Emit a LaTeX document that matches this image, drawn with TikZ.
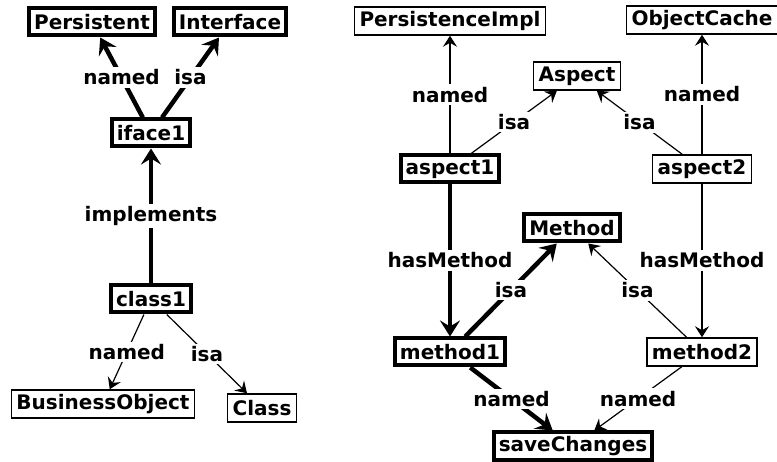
\documentclass[tikz,border=0pt]{standalone}
\usepackage{fontspec}
\setmainfont{DejaVu Sans}
\usetikzlibrary{arrows.meta}
\begin{document}
\begin{tikzpicture}[x=1pt,y=-1pt,
  every node/.style={font=\fontsize{20}{24}\selectfont\bfseries},
  thickbox/.style={draw, line width=4pt, fill=white, inner xsep=5pt, inner ysep=1pt, minimum height=27pt},
  thinbox/.style={draw, line width=1.5pt, fill=white, inner xsep=5pt, inner ysep=1pt, minimum height=28pt},
  lbl/.style={fill=white, inner sep=2.5pt},
  thickedge/.style={line width=4.5pt, -{Stealth[length=16pt,width=20pt,inset=6pt]}},
  thinedge/.style={line width=1.2pt, -{Stealth[length=11pt,width=14pt,inset=4pt]}},
]
\path[use as bounding box] (0,0) rectangle (777,462);
\node[thickbox] (persistent) at (92,22) {Persistent};
\node[thickbox] (interface) at (230,22) {Interface};
\node[thickbox] (iface1) at (151,133) {iface1};
\node[thickbox] (class1) at (151,299) {class1};
\node[thinbox] (bo) at (103,404) {BusinessObject};
\node[thinbox] (class) at (262,408) {Class};
\node[thinbox] (pimpl) at (450,21) {PersistenceImpl};
\node[thinbox] (ocache) at (702,20) {ObjectCache};
\node[thinbox] (aspect) at (577,76) {Aspect};
\node[thickbox] (aspect1) at (450,169) {aspect1};
\node[thinbox] (aspect2) at (702,169) {aspect2};
\node[thickbox] (method) at (572,228) {Method};
\node[thickbox] (method1) at (450,352) {method1};
\node[thinbox] (method2) at (702,352) {method2};
\node[thickbox] (save) at (573,446) {saveChanges};

\draw[thickedge] (iface1) -- node[lbl]{named} (persistent);
\draw[thickedge] (iface1) -- node[lbl]{isa} (interface);
\draw[thickedge] (class1) -- node[lbl]{implements} (iface1);
\draw[thinedge] (class1) -- node[lbl]{named} (bo);
\draw[thinedge] (class1) -- node[lbl]{isa} (class);
\draw[thinedge] (aspect1) -- node[lbl]{named} (pimpl);
\draw[thinedge] (aspect1) -- node[lbl]{isa} (aspect);
\draw[thinedge] (aspect2) -- node[lbl]{isa} (aspect);
\draw[thinedge] (aspect2) -- node[lbl]{named} (ocache);
\draw[thickedge] (aspect1) -- node[lbl]{hasMethod} (method1);
\draw[thickedge] (method1) -- node[lbl]{isa} (method);
\draw[thinedge] (method2) -- node[lbl]{isa} (method);
\draw[thinedge] (aspect2) -- node[lbl]{hasMethod} (method2);
\draw[thickedge] (method1) -- node[lbl]{named} (save);
\draw[thinedge] (method2) -- node[lbl]{named} (save);
\end{tikzpicture}
\end{document}
